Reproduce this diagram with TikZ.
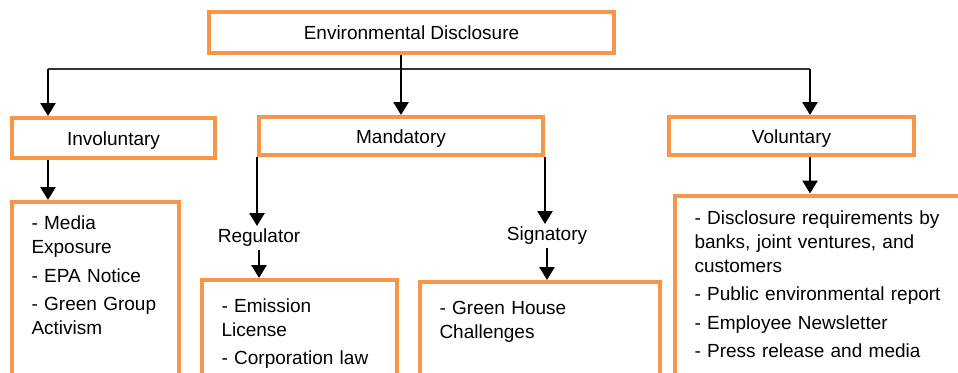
\documentclass[tikz,border=0pt]{standalone}
\usepackage{fontspec}
\setmainfont{Liberation Sans}
\usepackage{tikz}
\usetikzlibrary{arrows.meta,positioning}
\definecolor{boxorange}{RGB}{247,150,70}
\hyphenpenalty=10000
\exhyphenpenalty=10000

\begin{document}
\begin{tikzpicture}[
    x=1pt, y=1pt,
    font=\fontsize{19}{24.2}\selectfont,
    box/.style={rectangle, draw=boxorange, line width=4pt, text centered, inner sep=0pt, text height=14pt, text depth=0pt},
    listbox/.style={rectangle, draw=boxorange, line width=4pt, align=left, inner xsep=19.5pt, inner ysep=12pt, text depth=200pt},
    branch/.style={inner sep=3pt},
    arrow/.style={-{Triangle[width=15pt,length=13pt]}, line width=2.6pt},
    bus/.style={line width=1.5pt, draw=black!80}
]
\useasboundingbox (0,0) rectangle (958,-372);
\clip (0,0) rectangle (958,-372);

% Level 1: Root
\node[box, minimum width=405pt, minimum height=41pt] (env) at (411.5,-32.5) {Environmental Disclosure};

% Level 2: Disclosure types
\node[box, minimum width=203pt, minimum height=40pt] (invol) at (113.5,-138) {Involuntary};
\node[box, minimum width=284pt, minimum height=38pt] (mand) at (401,-136) {Mandatory};
\node[box, minimum width=245pt, minimum height=38pt] (vol) at (791.5,-136) {Voluntary};

% Level 3: Mandatory split
\node[branch, below=69pt of mand.south west, xshift=2pt] (reg) {Regulator};
\node[branch, below=67pt of mand.south east, xshift=2pt] (sig) {Signatory};

% Level 4: Lists
\node[listbox, below=40pt of invol.south west, anchor=north west, text width=128pt, text height=15.5pt] (invlist)
    {- Media Exposure\\[4.3pt] - EPA Notice\\[4.3pt] - Green Group Activism};
\node[listbox, anchor=north west, text width=156pt, text height=20pt] (reglist) at (200,-278)
    {- Emission License\\[4.3pt] - Corporation law};
\node[listbox, anchor=north west, text width=201pt, text height=20pt] (siglist) at (418,-280)
    {- Green House Challenges};
\node[listbox, anchor=north west, text width=252pt, text height=16.5pt] (vollist) at (673,-193.5)
    {- Disclosure requirements by banks, joint ventures, and customers\\[4.3pt] - Public environmental report\\[4.3pt] - Employee Newsletter\\[4.3pt] - Press release and media};

% Connectors
\coordinate (busL) at (48,-69);
\coordinate (busR) at (810,-69);
\draw[bus] (busL) -- (busR);
\draw[arrow] (env.south -| mand.north) -- (mand.north);
\draw[arrow] (busL) -- (busL |- invol.north);
\draw[arrow] (busR) -- (busR |- vol.north);
\draw[arrow] (invol.south -| busL) -- (busL |- invlist.north);
\draw[arrow] (vol.south -| busR) -- (busR |- vollist.north);
\draw[arrow] (mand.south west) -- (mand.south west |- reg.north);
\draw[arrow] (mand.south east) -- (mand.south east |- sig.north);
\draw[arrow] (reg.south) -- (reg.south |- reglist.north);
\draw[arrow] (sig.south) -- (sig.south |- siglist.north);

\end{tikzpicture}
\end{document}
